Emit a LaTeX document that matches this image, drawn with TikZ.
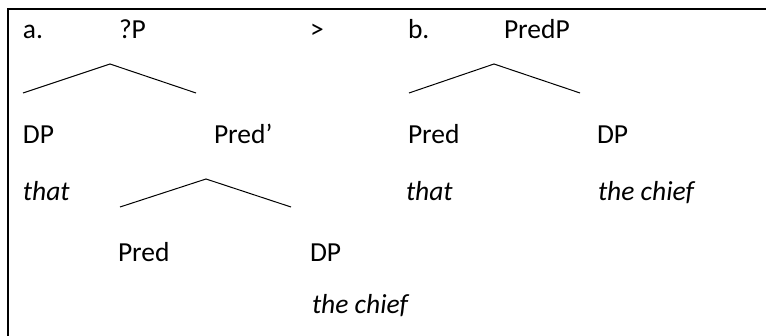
\documentclass[tikz,border=0pt]{standalone}
\usepackage{fontspec}
\setmainfont{Carlito}
\begin{document}
\begin{tikzpicture}[x=1pt,y=-1pt,
  lbl/.style={anchor=base west,inner sep=0pt,outer sep=0pt,font=\fontsize{27.5}{32}\selectfont},
  lex/.style={lbl,font=\fontsize{27.5}{32}\selectfont\itshape},
  branch/.style={line width=1pt,black},
  frame/.style={line width=2pt,black}]
\useasboundingbox (0,0) rectangle (766,336);
% frame (top and left only visible)
\coordinate (fTR) at (770,9);
\coordinate (fTL) at (8,9);
\coordinate (fBL) at (8,340);
\draw[frame] (fTR) -- (fTL) -- (fBL);
% row 1
\node[lbl] (a) at (23,39) {a.};
\node[lbl] (qP) at (119,39) {?P};
\node[lbl] (gt) at (310,39) {>};
\node[lbl] (b) at (408,39) {b.};
\node[lbl] (PredP) at (504,39) {PredP};
% tree a top branches
\coordinate (a1apex) at (110,64);
\coordinate (a1L) at (23,93);
\coordinate (a1R) at (196,93);
\draw[branch] (a1L) -- (a1apex) -- (a1R);
% tree b branches
\coordinate (b1apex) at (494,64);
\coordinate (b1L) at (409,93);
\coordinate (b1R) at (580,93);
\draw[branch] (b1L) -- (b1apex) -- (b1R);
% row 2
\node[lbl] (DPa) at (23,144) {DP};
\node[lbl] (Predbar) at (214,144) {Pred’};
\node[lbl] (Predb) at (408,144) {Pred};
\node[lbl] (DPb) at (597,144) {DP};
% row 3
\node[lex] (thata) at (23,201) {that};
\node[lex] (thatb) at (406,201) {that};
\node[lex] (chiefb) at (598,201) {the chief};
\coordinate (a2apex) at (206,179);
\coordinate (a2L) at (120,207);
\coordinate (a2R) at (291,207);
\draw[branch] (a2L) -- (a2apex) -- (a2R);
% row 4
\node[lbl] (Preda) at (118,262) {Pred};
\node[lbl] (DPa2) at (310,262) {DP};
% row 5
\node[lex] (chiefa) at (312,314) {the chief};
\end{tikzpicture}
\end{document}
